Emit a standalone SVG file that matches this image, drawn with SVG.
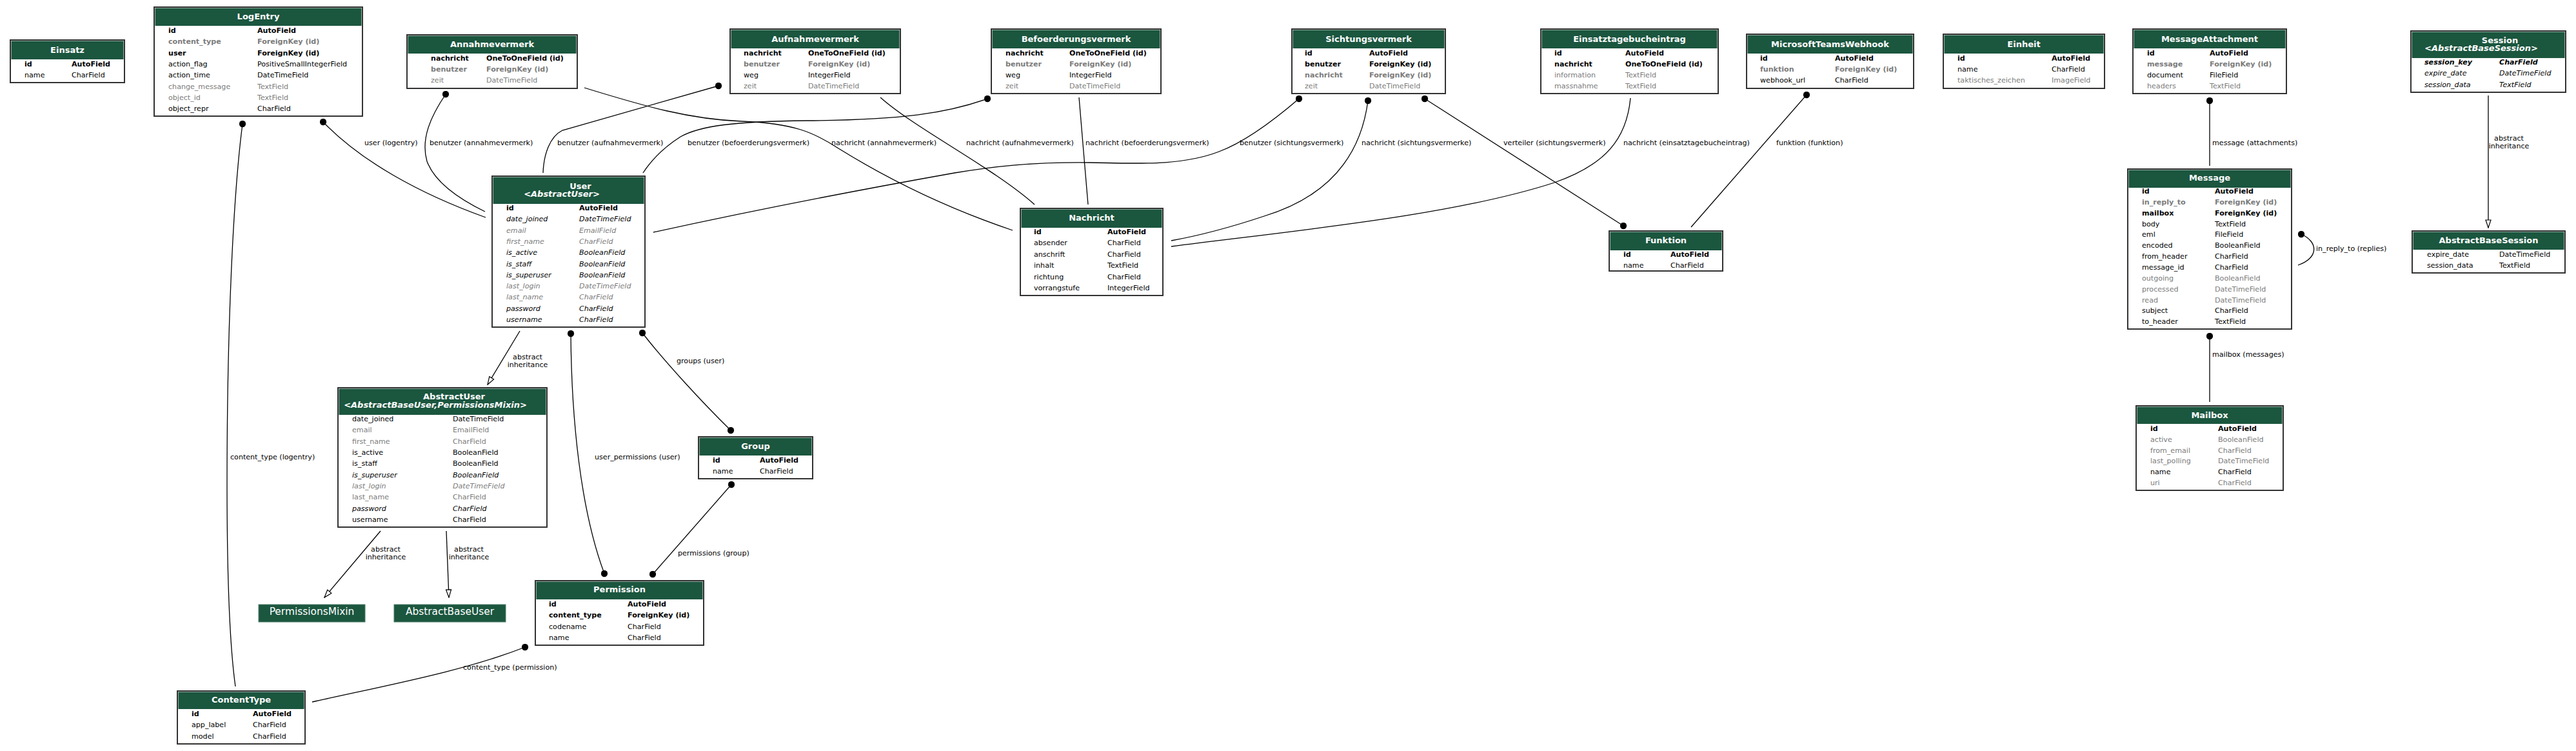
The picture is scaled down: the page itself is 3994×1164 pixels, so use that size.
<svg xmlns="http://www.w3.org/2000/svg" width="3994" height="1164" viewBox="0 0 3994 1164">
<style>
text{font-family:'DejaVu Sans',sans-serif}
.box{fill:#fff;stroke:#333;stroke-width:2}
.hd{fill:#1b563f}
.tt{font-size:13px;font-weight:bold;fill:#fff;text-anchor:middle}
.tti{font-size:13px;font-weight:bold;font-style:italic;fill:#fff;text-anchor:middle}
.f{font-size:11.1px;fill:#000}
.b{font-weight:bold}
.g{fill:#7b7b7b}
.i{font-style:italic}
.e{fill:none;stroke:#000;stroke-width:1.3}
.fk{marker-start:url(#dot)}
.mm{marker-start:url(#dot);marker-end:url(#dot)}
.inh{marker-end:url(#tri)}
.lb{font-size:11.1px;fill:#000}
.lbc{font-size:11.1px;fill:#000;text-anchor:middle}
.ab{fill:#1b563f;stroke:#4f7f6a;stroke-width:1}
.abt{font-size:15.4px;fill:#fff;text-anchor:middle}
</style>
<defs>
<marker id="dot" viewBox="0 0 12 12" refX="6" refY="6" markerWidth="11" markerHeight="11" markerUnits="userSpaceOnUse"><circle cx="6" cy="6" r="5.6" fill="#000"/></marker>
<marker id="tri" viewBox="0 0 14 10" refX="13" refY="5" markerWidth="14" markerHeight="10" orient="auto" markerUnits="userSpaceOnUse"><path d="M1,1 L13,5 L1,9 z" fill="#fff" stroke="#000" stroke-width="1.2"/></marker>
</defs>
<rect width="3994" height="1164" fill="#fff"/>

<g id="connectors">
<path class="e fk" d="M376,192 C362,300 352,500 352,750 C352,900 356,1000 365,1064"/>
<path class="e fk" d="M501,189 C560,250 650,300 753,337"/>
<path class="e fk" d="M691,146 C668,180 652,215 662,250 C675,285 715,310 752,328"/>
<path class="e fk" d="M1114,133 L872,202 C852,212 843,240 842,268"/>
<path class="e fk" d="M1531,153 C1470,175 1400,186 1250,187 C1140,188 1085,195 1055,212 C1030,228 1010,248 997,268"/>
<path class="e fk" d="M2014,153 C1965,195 1925,222 1890,235 C1830,258 1760,253 1690,252 C1600,251 1540,258 1480,268 C1300,300 1150,330 1013,360"/>
<path class="e fk" d="M2121,156 C2112,225 2075,300 1960,335 C1900,355 1860,365 1816,373"/>
<path class="e mm" d="M2209,153 L2517,350"/>
<path class="e" d="M906,136 C1000,165 1070,185 1150,188 C1230,191 1262,205 1300,230 C1400,292 1490,330 1570,357"/>
<path class="e" d="M1365,151 C1420,200 1540,260 1604,317"/>
<path class="e" d="M1673,151 C1677,200 1683,270 1687,317"/>
<path class="e" d="M2528,152 C2522,215 2490,255 2410,283 C2250,335 2000,358 1816,382"/>
<path class="e fk" d="M2801,147 L2622,352"/>
<path class="e fk" d="M3426,156 L3426,257"/>
<path class="e fk" d="M3568,363 C3595,375 3595,400 3563,411"/>
<path class="e fk" d="M3426,521 L3426,623"/>
<path class="e mm" d="M996,516 C1030,560 1090,625 1133,667"/>
<path class="e mm" d="M885,517 C886,650 900,790 937,889"/>
<path class="e mm" d="M1134,751 L1012,890"/>
<path class="e fk" d="M814,1003 C720,1040 600,1062 484,1088"/>
<path class="e inh" d="M806,513 L756,596"/>
<path class="e inh" d="M590,823 L503,926"/>
<path class="e inh" d="M692,823 L696,926"/>
<path class="e inh" d="M3858,148 L3858,353"/>
<text class="lb" x="357" y="712">content_type (logentry)</text>
<text class="lb" x="565" y="225">user (logentry)</text>
<text class="lb" x="666" y="225">benutzer (annahmevermerk)</text>
<text class="lb" x="864" y="225">benutzer (aufnahmevermerk)</text>
<text class="lb" x="1066" y="225">benutzer (befoerderungsvermerk)</text>
<text class="lb" x="1289" y="225">nachricht (annahmevermerk)</text>
<text class="lb" x="1498" y="225">nachricht (aufnahmevermerk)</text>
<text class="lb" x="1683" y="225">nachricht (befoerderungsvermerk)</text>
<text class="lb" x="1922" y="225">benutzer (sichtungsvermerk)</text>
<text class="lb" x="2111" y="225">nachricht (sichtungsvermerke)</text>
<text class="lb" x="2331" y="225">verteiler (sichtungsvermerk)</text>
<text class="lb" x="2517" y="225">nachricht (einsatztagebucheintrag)</text>
<text class="lb" x="2754" y="225">funktion (funktion)</text>
<text class="lb" x="3430" y="225">message (attachments)</text>
<text class="lbc" x="3890" y="218">abstract</text>
<text class="lbc" x="3890" y="230">inheritance</text>
<text class="lb" x="3591" y="389">in_reply_to (replies)</text>
<text class="lb" x="3430" y="553">mailbox (messages)</text>
<text class="lbc" x="818" y="557">abstract</text>
<text class="lbc" x="818" y="569">inheritance</text>
<text class="lb" x="1049" y="563">groups (user)</text>
<text class="lb" x="922" y="712">user_permissions (user)</text>
<text class="lb" x="1051" y="861">permissions (group)</text>
<text class="lbc" x="598" y="855">abstract</text>
<text class="lbc" x="598" y="867">inheritance</text>
<text class="lbc" x="727" y="855">abstract</text>
<text class="lbc" x="727" y="867">inheritance</text>
<text class="lb" x="718" y="1038">content_type (permission)</text>
</g>

<g id="node-Einsatz">
<rect class="box" x="16" y="62" width="177" height="66"/>
<rect class="hd" x="17.5" y="63.5" width="174" height="28.5"/>
<text class="tt" x="104.5" y="81.5">Einsatz</text>
<text class="f b" x="38" y="103">id</text><text class="f b" x="111" y="103">AutoField</text>
<text class="f" x="38" y="120">name</text><text class="f" x="111" y="120">CharField</text>
</g>

<g id="node-LogEntry">
<rect class="box" x="239" y="11" width="323" height="169"/>
<rect class="hd" x="240.5" y="12.5" width="320" height="27.5"/>
<text class="tt" x="400.5" y="29.7">LogEntry</text>
<text class="f b" x="261" y="51">id</text><text class="f b" x="399" y="51">AutoField</text>
<text class="f b g" x="261" y="68.3">content_type</text><text class="f b g" x="399" y="68.3">ForeignKey (id)</text>
<text class="f b" x="261" y="85.6">user</text><text class="f b" x="399" y="85.6">ForeignKey (id)</text>
<text class="f" x="261" y="102.9">action_flag</text><text class="f" x="399" y="102.9">PositiveSmallIntegerField</text>
<text class="f" x="261" y="120.2">action_time</text><text class="f" x="399" y="120.2">DateTimeField</text>
<text class="f g" x="261" y="137.5">change_message</text><text class="f g" x="399" y="137.5">TextField</text>
<text class="f g" x="261" y="154.8">object_id</text><text class="f g" x="399" y="154.8">TextField</text>
<text class="f" x="261" y="172.1">object_repr</text><text class="f" x="399" y="172.1">CharField</text>
</g>

<g id="node-Annahmevermerk">
<rect class="box" x="631" y="54" width="264" height="83"/>
<rect class="hd" x="632.5" y="55.5" width="261" height="27.5"/>
<text class="tt" x="763" y="73">Annahmevermerk</text>
<text class="f b" x="668" y="94">nachricht</text><text class="f b" x="754" y="94">OneToOneField (id)</text>
<text class="f b g" x="668" y="111">benutzer</text><text class="f b g" x="754" y="111">ForeignKey (id)</text>
<text class="f g" x="668" y="128">zeit</text><text class="f g" x="754" y="128">DateTimeField</text>
</g>

<g id="node-Aufnahmevermerk">
<rect class="box" x="1132" y="45" width="264" height="100"/>
<rect class="hd" x="1133.5" y="46.5" width="261" height="28.5"/>
<text class="tt" x="1264" y="64.7">Aufnahmevermerk</text>
<text class="f b" x="1153" y="86">nachricht</text><text class="f b" x="1253" y="86">OneToOneField (id)</text>
<text class="f b g" x="1153" y="103">benutzer</text><text class="f b g" x="1253" y="103">ForeignKey (id)</text>
<text class="f" x="1153" y="120">weg</text><text class="f" x="1253" y="120">IntegerField</text>
<text class="f g" x="1153" y="137">zeit</text><text class="f g" x="1253" y="137">DateTimeField</text>
</g>

<g id="node-Befoerderungsvermerk">
<rect class="box" x="1537" y="45" width="263" height="100"/>
<rect class="hd" x="1538.5" y="46.5" width="260" height="28.5"/>
<text class="tt" x="1668.5" y="64.7">Befoerderungsvermerk</text>
<text class="f b" x="1559" y="86">nachricht</text><text class="f b" x="1658" y="86">OneToOneField (id)</text>
<text class="f b g" x="1559" y="103">benutzer</text><text class="f b g" x="1658" y="103">ForeignKey (id)</text>
<text class="f" x="1559" y="120">weg</text><text class="f" x="1658" y="120">IntegerField</text>
<text class="f g" x="1559" y="137">zeit</text><text class="f g" x="1658" y="137">DateTimeField</text>
</g>

<g id="node-Sichtungsvermerk">
<rect class="box" x="2003" y="45" width="238" height="100"/>
<rect class="hd" x="2004.5" y="46.5" width="235" height="28.5"/>
<text class="tt" x="2122" y="64.7">Sichtungsvermerk</text>
<text class="f b" x="2023" y="86">id</text><text class="f b" x="2123" y="86">AutoField</text>
<text class="f b" x="2023" y="103">benutzer</text><text class="f b" x="2123" y="103">ForeignKey (id)</text>
<text class="f b g" x="2023" y="120">nachricht</text><text class="f b g" x="2123" y="120">ForeignKey (id)</text>
<text class="f g" x="2023" y="137">zeit</text><text class="f g" x="2123" y="137">DateTimeField</text>
</g>

<g id="node-Einsatztagebucheintrag">
<rect class="box" x="2389" y="45" width="275" height="100"/>
<rect class="hd" x="2390.5" y="46.5" width="272" height="28.5"/>
<text class="tt" x="2526.5" y="64.7">Einsatztagebucheintrag</text>
<text class="f b" x="2410" y="86">id</text><text class="f b" x="2520" y="86">AutoField</text>
<text class="f b" x="2410" y="103">nachricht</text><text class="f b" x="2520" y="103">OneToOneField (id)</text>
<text class="f g" x="2410" y="120">information</text><text class="f g" x="2520" y="120">TextField</text>
<text class="f g" x="2410" y="137">massnahme</text><text class="f g" x="2520" y="137">TextField</text>
</g>

<g id="node-MicrosoftTeamsWebhook">
<rect class="box" x="2708" y="53" width="259" height="84"/>
<rect class="hd" x="2709.5" y="54.5" width="256" height="28.5"/>
<text class="tt" x="2837.5" y="72.7">MicrosoftTeamsWebhook</text>
<text class="f b" x="2729" y="94">id</text><text class="f b" x="2845" y="94">AutoField</text>
<text class="f b g" x="2729" y="111">funktion</text><text class="f b g" x="2845" y="111">ForeignKey (id)</text>
<text class="f" x="2729" y="128">webhook_url</text><text class="f" x="2845" y="128">CharField</text>
</g>

<g id="node-Einheit">
<rect class="box" x="3013" y="53" width="250" height="84"/>
<rect class="hd" x="3014.5" y="54.5" width="247" height="28.5"/>
<text class="tt" x="3138" y="72.7">Einheit</text>
<text class="f b" x="3035" y="94">id</text><text class="f b" x="3181" y="94">AutoField</text>
<text class="f" x="3035" y="111">name</text><text class="f" x="3181" y="111">CharField</text>
<text class="f g" x="3035" y="128">taktisches_zeichen</text><text class="f g" x="3181" y="128">ImageField</text>
</g>

<g id="node-MessageAttachment">
<rect class="box" x="3307" y="45" width="238" height="100"/>
<rect class="hd" x="3308.5" y="46.5" width="235" height="28.5"/>
<text class="tt" x="3426" y="64.7">MessageAttachment</text>
<text class="f b" x="3329" y="86">id</text><text class="f b" x="3426" y="86">AutoField</text>
<text class="f b g" x="3329" y="103">message</text><text class="f b g" x="3426" y="103">ForeignKey (id)</text>
<text class="f" x="3329" y="120">document</text><text class="f" x="3426" y="120">FileField</text>
<text class="f g" x="3329" y="137">headers</text><text class="f g" x="3426" y="137">TextField</text>
</g>

<g id="node-Session">
<rect class="box" x="3738" y="48" width="240" height="95"/>
<rect class="hd" x="3739.5" y="49.5" width="237" height="40.5"/>
<text class="tt" x="3876" y="66.5">Session</text>
<text class="tti" x="3847" y="79">&lt;AbstractBaseSession&gt;</text>
<text class="f b i" x="3759" y="100">session_key</text><text class="f b i" x="3875" y="100">CharField</text>
<text class="f i" x="3759" y="117">expire_date</text><text class="f i" x="3875" y="117">DateTimeField</text>
<text class="f i" x="3759" y="135">session_data</text><text class="f i" x="3875" y="135">TextField</text>
</g>

<g id="node-AbstractBaseSession">
<rect class="box" x="3740" y="358" width="237" height="65"/>
<rect class="hd" x="3741.5" y="359.5" width="234" height="27.5"/>
<text class="tt" x="3858.5" y="377">AbstractBaseSession</text>
<text class="f" x="3763" y="398">expire_date</text><text class="f" x="3875" y="398">DateTimeField</text>
<text class="f" x="3763" y="415">session_data</text><text class="f" x="3875" y="415">TextField</text>
</g>

<g id="node-Message">
<rect class="box" x="3299" y="262" width="254" height="248"/>
<rect class="hd" x="3300.5" y="263.5" width="251" height="27.5"/>
<text class="tt" x="3426" y="280">Message</text>
<text class="f b" x="3321" y="300">id</text><text class="f b" x="3434" y="300">AutoField</text>
<text class="f b g" x="3321" y="316.85">in_reply_to</text><text class="f b g" x="3434" y="316.85">ForeignKey (id)</text>
<text class="f b" x="3321" y="333.7">mailbox</text><text class="f b" x="3434" y="333.7">ForeignKey (id)</text>
<text class="f" x="3321" y="350.55">body</text><text class="f" x="3434" y="350.55">TextField</text>
<text class="f" x="3321" y="367.4">eml</text><text class="f" x="3434" y="367.4">FileField</text>
<text class="f" x="3321" y="384.25">encoded</text><text class="f" x="3434" y="384.25">BooleanField</text>
<text class="f" x="3321" y="401.1">from_header</text><text class="f" x="3434" y="401.1">CharField</text>
<text class="f" x="3321" y="417.95">message_id</text><text class="f" x="3434" y="417.95">CharField</text>
<text class="f g" x="3321" y="434.8">outgoing</text><text class="f g" x="3434" y="434.8">BooleanField</text>
<text class="f g" x="3321" y="451.65">processed</text><text class="f g" x="3434" y="451.65">DateTimeField</text>
<text class="f g" x="3321" y="468.5">read</text><text class="f g" x="3434" y="468.5">DateTimeField</text>
<text class="f" x="3321" y="485.35">subject</text><text class="f" x="3434" y="485.35">CharField</text>
<text class="f" x="3321" y="502.2">to_header</text><text class="f" x="3434" y="502.2">TextField</text>
</g>

<g id="node-Mailbox">
<rect class="box" x="3312" y="629" width="228" height="131"/>
<rect class="hd" x="3313.5" y="630.5" width="225" height="26.5"/>
<text class="tt" x="3426" y="648">Mailbox</text>
<text class="f b" x="3334" y="668">id</text><text class="f b" x="3439" y="668">AutoField</text>
<text class="f g" x="3334" y="684.8">active</text><text class="f g" x="3439" y="684.8">BooleanField</text>
<text class="f g" x="3334" y="701.6">from_email</text><text class="f g" x="3439" y="701.6">CharField</text>
<text class="f g" x="3334" y="718.4">last_polling</text><text class="f g" x="3439" y="718.4">DateTimeField</text>
<text class="f" x="3334" y="735.2">name</text><text class="f" x="3439" y="735.2">CharField</text>
<text class="f g" x="3334" y="752">uri</text><text class="f g" x="3439" y="752">CharField</text>
</g>

<g id="node-Nachricht">
<rect class="box" x="1582" y="323" width="221" height="135"/>
<rect class="hd" x="1583.5" y="324.5" width="218" height="28.5"/>
<text class="tt" x="1692.5" y="342">Nachricht</text>
<text class="f b" x="1603" y="363">id</text><text class="f b" x="1717" y="363">AutoField</text>
<text class="f" x="1603" y="380.4">absender</text><text class="f" x="1717" y="380.4">CharField</text>
<text class="f" x="1603" y="397.8">anschrift</text><text class="f" x="1717" y="397.8">CharField</text>
<text class="f" x="1603" y="415.2">inhalt</text><text class="f" x="1717" y="415.2">TextField</text>
<text class="f" x="1603" y="432.6">richtung</text><text class="f" x="1717" y="432.6">CharField</text>
<text class="f" x="1603" y="450">vorrangstufe</text><text class="f" x="1717" y="450">IntegerField</text>
</g>

<g id="node-Funktion">
<rect class="box" x="2495" y="358" width="176" height="62"/>
<rect class="hd" x="2496.5" y="359.5" width="173" height="28.5"/>
<text class="tt" x="2583" y="377">Funktion</text>
<text class="f b" x="2517" y="398">id</text><text class="f b" x="2590" y="398">AutoField</text>
<text class="f" x="2517" y="415">name</text><text class="f" x="2590" y="415">CharField</text>
</g>

<g id="node-User">
<rect class="box" x="763" y="273" width="237" height="234"/>
<rect class="hd" x="764.5" y="274.5" width="234" height="41.5"/>
<text class="tt" x="900" y="292.5">User</text>
<text class="tti" x="871" y="305">&lt;AbstractUser&gt;</text>
<text class="f b" x="785" y="326">id</text><text class="f b" x="898" y="326">AutoField</text>
<text class="f i" x="785" y="343.3">date_joined</text><text class="f i" x="898" y="343.3">DateTimeField</text>
<text class="f i g" x="785" y="360.6">email</text><text class="f i g" x="898" y="360.6">EmailField</text>
<text class="f i g" x="785" y="377.9">first_name</text><text class="f i g" x="898" y="377.9">CharField</text>
<text class="f i" x="785" y="395.2">is_active</text><text class="f i" x="898" y="395.2">BooleanField</text>
<text class="f i" x="785" y="412.5">is_staff</text><text class="f i" x="898" y="412.5">BooleanField</text>
<text class="f i" x="785" y="429.8">is_superuser</text><text class="f i" x="898" y="429.8">BooleanField</text>
<text class="f i g" x="785" y="447.1">last_login</text><text class="f i g" x="898" y="447.1">DateTimeField</text>
<text class="f i g" x="785" y="464.4">last_name</text><text class="f i g" x="898" y="464.4">CharField</text>
<text class="f i" x="785" y="481.7">password</text><text class="f i" x="898" y="481.7">CharField</text>
<text class="f i" x="785" y="499">username</text><text class="f i" x="898" y="499">CharField</text>
</g>

<g id="node-AbstractUser">
<rect class="box" x="524" y="601" width="324" height="216"/>
<rect class="hd" x="525.5" y="602.5" width="321" height="40.5"/>
<text class="tt" x="704" y="618.5">AbstractUser</text>
<text class="tti" x="675" y="631.5">&lt;AbstractBaseUser,PermissionsMixin&gt;</text>
<text class="f" x="546" y="653">date_joined</text><text class="f" x="702" y="653">DateTimeField</text>
<text class="f g" x="546" y="670.3">email</text><text class="f g" x="702" y="670.3">EmailField</text>
<text class="f g" x="546" y="687.7">first_name</text><text class="f g" x="702" y="687.7">CharField</text>
<text class="f" x="546" y="705">is_active</text><text class="f" x="702" y="705">BooleanField</text>
<text class="f" x="546" y="722.3">is_staff</text><text class="f" x="702" y="722.3">BooleanField</text>
<text class="f i" x="546" y="739.7">is_superuser</text><text class="f i" x="702" y="739.7">BooleanField</text>
<text class="f i g" x="546" y="757">last_login</text><text class="f i g" x="702" y="757">DateTimeField</text>
<text class="f g" x="546" y="774.3">last_name</text><text class="f g" x="702" y="774.3">CharField</text>
<text class="f i" x="546" y="791.7">password</text><text class="f i" x="702" y="791.7">CharField</text>
<text class="f" x="546" y="809">username</text><text class="f" x="702" y="809">CharField</text>
</g>

<g id="node-PermissionsMixin">
<rect class="ab" x="401" y="937" width="165" height="27"/>
<text class="abt" x="483.5" y="952.5">PermissionsMixin</text>
</g>

<g id="node-AbstractBaseUser">
<rect class="ab" x="611" y="937" width="173" height="27"/>
<text class="abt" x="697.5" y="952.5">AbstractBaseUser</text>
</g>

<g id="node-Group">
<rect class="box" x="1083" y="677" width="177" height="65"/>
<rect class="hd" x="1084.5" y="678.5" width="174" height="27.5"/>
<text class="tt" x="1171.5" y="695.7">Group</text>
<text class="f b" x="1105" y="717">id</text><text class="f b" x="1178" y="717">AutoField</text>
<text class="f" x="1105" y="734">name</text><text class="f" x="1178" y="734">CharField</text>
</g>

<g id="node-Permission">
<rect class="box" x="830" y="900" width="261" height="100"/>
<rect class="hd" x="831.5" y="901.5" width="258" height="27.5"/>
<text class="tt" x="960.5" y="918">Permission</text>
<text class="f b" x="851" y="940">id</text><text class="f b" x="973" y="940">AutoField</text>
<text class="f b" x="851" y="957.3">content_type</text><text class="f b" x="973" y="957.3">ForeignKey (id)</text>
<text class="f" x="851" y="974.6">codename</text><text class="f" x="973" y="974.6">CharField</text>
<text class="f" x="851" y="991.9">name</text><text class="f" x="973" y="991.9">CharField</text>
</g>

<g id="node-ContentType">
<rect class="box" x="275" y="1071" width="198" height="82"/>
<rect class="hd" x="276.5" y="1072.5" width="195" height="26.5"/>
<text class="tt" x="374" y="1089">ContentType</text>
<text class="f b" x="297" y="1110">id</text><text class="f b" x="392" y="1110">AutoField</text>
<text class="f" x="297" y="1127">app_label</text><text class="f" x="392" y="1127">CharField</text>
<text class="f" x="297" y="1145">model</text><text class="f" x="392" y="1145">CharField</text>
</g>
</svg>
